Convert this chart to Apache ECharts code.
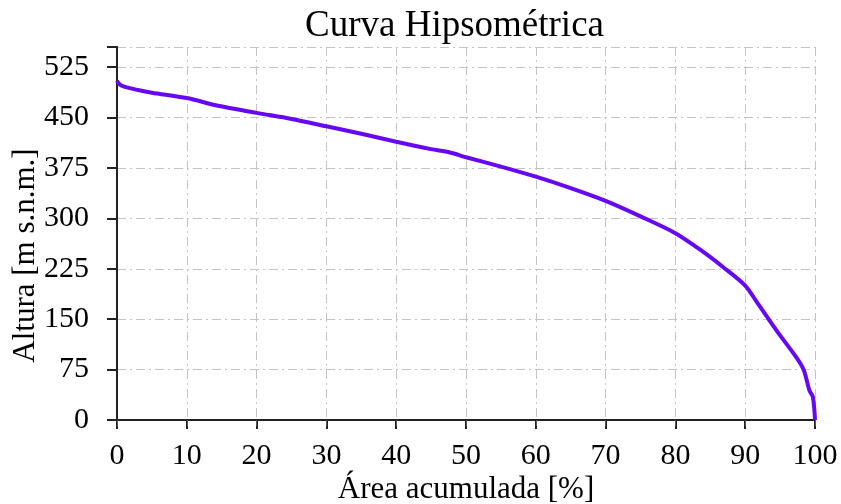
<!DOCTYPE html>
<html>
<head>
<meta charset="utf-8">
<script src="https://cdn.jsdelivr.net/npm/echarts@6/dist/echarts.min.js"></script>
<style>
    html, body { margin: 0; padding: 0; background: #fff; }
    #chart { width: 841px; height: 504px; }
</style>
</head>
<body>
<div id="chart"></div>
<script>
    // área acumulada [%]
    var area = [0, 0.3, 1, 3, 5, 10, 14.3, 20, 25, 30, 35, 40, 45, 47.7, 50, 55, 60, 65, 70, 75, 80, 83.6, 86.9, 90, 91.7, 94.5, 97.4, 98.4, 99.2, 99.7, 100];
    // altura [m s.n.m.]
    var altura = [505, 500, 496, 491, 487, 479, 468, 457, 448, 437, 426, 414, 403, 398, 391, 377, 362, 345, 326, 303, 278, 253, 227, 200, 175, 133, 92, 74, 44, 34, 0];
    var yTicks = [0, 75, 150, 225, 300, 375, 450, 525];

    var puntos = area.map(function (a, i) { return [a, altura[i]]; });

    var serif = 'Liberation Serif';
    var gridLine = { show: true, lineStyle: { color: '#c4c4c4', width: 1, type: [9, 4, 2, 4] } };

    var chart = echarts.init(document.getElementById('chart'));
    chart.setOption({
        backgroundColor: '#fff',
        animation: false,
        title: {
            text: 'Curva Hipsométrica',
            left: 300,
            top: 3,
            textStyle: { fontFamily: serif, fontSize: 37, fontWeight: 'normal', color: '#000' }
        },
        grid: { left: 117, right: 26, top: 47, bottom: 84, outerBoundsMode: 'none' },
        xAxis: [{
            type: 'value',
            min: 0, max: 100, interval: 10,
            name: 'Área acumulada [%]',
            nameLocation: 'middle',
            nameGap: 54,
            nameMoveOverlap: false,
            nameTextStyle: { fontFamily: serif, fontSize: 31, color: '#000' },
            axisLine: { onZero: false, lineStyle: { color: '#222', width: 2 } },
            axisTick: { length: 9, lineStyle: { color: '#222', width: 2 } },
            axisLabel: { fontFamily: serif, fontSize: 30, color: '#000', margin: 21 },
            splitLine: gridLine
        }, {
            type: 'value', position: 'top',
            min: 0, max: 100, interval: 10,
            axisLine: { lineStyle: { color: '#222', width: 2 } },
            axisTick: { inside: true, length: 6, lineStyle: { color: '#555', width: 1 } },
            axisLabel: { show: false },
            splitLine: { show: false }
        }],
        yAxis: [{
            type: 'value',
            min: 0, max: 555, interval: 75,
            name: 'Altura [m s.n.m.]',
            nameLocation: 'middle',
            nameGap: 76,
            nameMoveOverlap: false,
            nameTextStyle: { fontFamily: serif, fontSize: 31, color: '#000', padding: [0, 44, 0, 0] },
            axisLine: { onZero: false, lineStyle: { color: '#222', width: 2 } },
            axisTick: { length: 10, lineStyle: { color: '#222', width: 2 } },
            axisLabel: {
                fontFamily: serif, fontSize: 30, color: '#000', margin: 28,
                formatter: function (v) { return yTicks.indexOf(v) >= 0 ? String(v) : ''; }
            },
            splitLine: gridLine
        }, {
            type: 'value', position: 'right',
            min: 0, max: 555, interval: 75,
            axisLine: { show: true, lineStyle: { color: '#222', width: 2 } },
            axisTick: { show: false },
            axisLabel: { show: false },
            splitLine: { show: false }
        }],
        series: [{
            type: 'line',
            data: puntos,
            showSymbol: false,
            smooth: 0.3,
            lineStyle: { color: '#6608f5', width: 4 }
        }]
    });
</script>
</body>
</html>
